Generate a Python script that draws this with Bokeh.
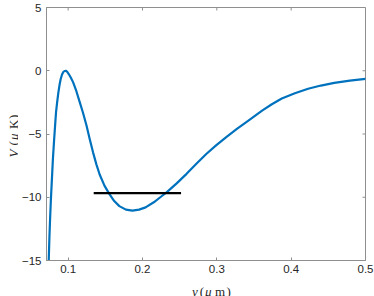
import math
from bokeh.plotting import figure
from bokeh.models import LinearAxis, FixedTicker, Range1d
from bokeh.layouts import row, column
from bokeh.core.properties import value
from bokeh.embed import file_html
from bokeh.resources import INLINE

# ---- data ----
y_um = [0.0739, 0.0748, 0.0758, 0.0768, 0.0779, 0.0795, 0.0811, 0.0825, 0.0837,
        0.0852, 0.0868, 0.0885, 0.0900, 0.0918, 0.0935, 0.0952, 0.0970, 0.0988,
        0.1010, 0.1037, 0.1066, 0.1110, 0.1157, 0.1199, 0.1248, 0.1290, 0.1335,
        0.1380, 0.1424, 0.1490, 0.1556, 0.1620, 0.1689, 0.1777, 0.1865, 0.1954,
        0.2042, 0.2152, 0.2240, 0.2328, 0.2460, 0.2593, 0.2725, 0.2858, 0.2990,
        0.3123, 0.3270, 0.3411, 0.3609, 0.3740, 0.3874, 0.4050, 0.4228, 0.4400,
        0.4580, 0.4790, 0.5000]
V_uK = [-15.0, -13.2, -11.6, -10.2, -8.9, -7.0, -5.5, -4.3, -3.3,
        -2.5, -1.75, -1.1, -0.65, -0.3, -0.1, -0.02, 0.0, -0.08,
        -0.28, -0.55, -0.9, -1.6, -2.5, -3.3, -4.35, -5.4, -6.45,
        -7.4, -8.2, -9.1, -9.75, -10.3, -10.7, -10.98, -11.06, -10.98,
        -10.8, -10.4, -10.0, -9.6, -8.9, -8.15, -7.35, -6.58, -5.9,
        -5.26, -4.6, -4.0, -3.15, -2.65, -2.2, -1.78, -1.42, -1.17,
        -0.96, -0.78, -0.64]
level_y = [0.1344, 0.2519]
level_V = [-9.68, -9.68]

x_ticks = [0.1, 0.2, 0.3, 0.4, 0.5]
y_ticks = [-15, -10, -5, 0, 5]
x_range = (0.0709, 0.5)
y_range = (-15, 5)

# axis label pieces: (text, italic)
xlabel_parts = [("y", True), ("(", False), ("μ", True), ("m", False), (")", False)]
ylabel_parts = [("V", True), ("(", False), ("μ", True), ("K", False), (")", False)]

W, H = 374, 296
LW = 18           # strip holding the y label
BH = 19           # strip holding the x label
MW, MH = W - LW, H - BH
BL, BR, BT, BB = 41 - LW, 9, 7, MH - 260
FW, FH = MW - BL - BR, MH - BT - BB
AX = "#8f8f8f"
TXT = "#262626"
SERIF = value("Liberation Serif")
LBL_SIZE = "13px"

p = figure(width=MW, height=MH, output_backend="svg", toolbar_location=None,
           x_range=Range1d(*x_range), y_range=Range1d(*y_range),
           min_border_left=BL, min_border_right=BR, min_border_top=BT, min_border_bottom=BB,
           x_axis_location=None, y_axis_location=None)
p.outline_line_color = AX
p.outline_line_width = 1
p.xgrid.visible = False
p.ygrid.visible = False
p.background_fill_color = "white"
p.border_fill_color = "white"

def mk_axis(ticks, standoff):
    ax = LinearAxis(ticker=FixedTicker(ticks=ticks), axis_label=None)
    ax.axis_line_color = AX
    ax.axis_line_width = 1
    ax.major_tick_line_color = AX
    ax.major_tick_in = 3
    ax.major_tick_out = 0
    ax.minor_tick_line_color = None
    ax.major_label_text_font = "Liberation Sans"
    ax.major_label_text_font_size = "11.5px"
    ax.major_label_text_color = TXT
    ax.major_label_standoff = standoff
    return ax

p.add_layout(mk_axis(x_ticks, 4), "below")
p.add_layout(mk_axis(y_ticks, 5), "left")

# inward ticks on the top and right edges (3 px long)
dx = 3 * (x_range[1] - x_range[0]) / FW
dy = 3 * (y_range[1] - y_range[0]) / FH
p.segment(x0=x_ticks, x1=x_ticks, y0=[y_range[1]] * len(x_ticks),
          y1=[y_range[1] - dy] * len(x_ticks), line_color=AX, line_width=1)
p.segment(x0=[x_range[1]] * len(y_ticks), x1=[x_range[1] - dx] * len(y_ticks),
          y0=y_ticks, y1=y_ticks, line_color=AX, line_width=1)

p.line(y_um, V_uK, line_color="#0072BD", line_width=2.2, line_join="round")
p.line(level_y, level_V, line_color="black", line_width=2.2)

def strip(w, h):
    f = figure(width=w, height=h, output_backend="svg", toolbar_location=None,
               x_range=Range1d(0, w), y_range=Range1d(0, h), min_border=0,
               x_axis_location=None, y_axis_location=None)
    f.outline_line_color = None
    f.xgrid.visible = False
    f.ygrid.visible = False
    f.border_fill_color = "white"
    f.background_fill_color = "white"
    return f

# x label strip: page x of each piece's left edge, baseline at page y 291
xs_off = [180.5, 189, 195, 206, 219]
bx = strip(MW, BH)
for (t, it), x in zip(xlabel_parts, xs_off):
    bx.text(x=[x - LW], y=[H - 291], text=[t], text_font=SERIF, text_font_size=LBL_SIZE,
            text_font_style="italic" if it else "normal", text_color=TXT,
            text_align="left", text_baseline="alphabetic")

# y label strip: rotated pieces, baseline at page x 12.5
ys_off = [157, 145, 139.5, 128.5, 118.5]
ly = strip(LW, H)
for (t, it), y in zip(ylabel_parts, ys_off):
    ly.text(x=[12.5], y=[H - y], text=[t], text_font=SERIF, text_font_size=LBL_SIZE,
            text_font_style="italic" if it else "normal", text_color=TXT,
            text_align="left", text_baseline="alphabetic", angle=math.pi / 2)

layout = row(ly, column(p, bx, spacing=0), spacing=0)
open("out.html", "w").write(file_html(layout, INLINE))
